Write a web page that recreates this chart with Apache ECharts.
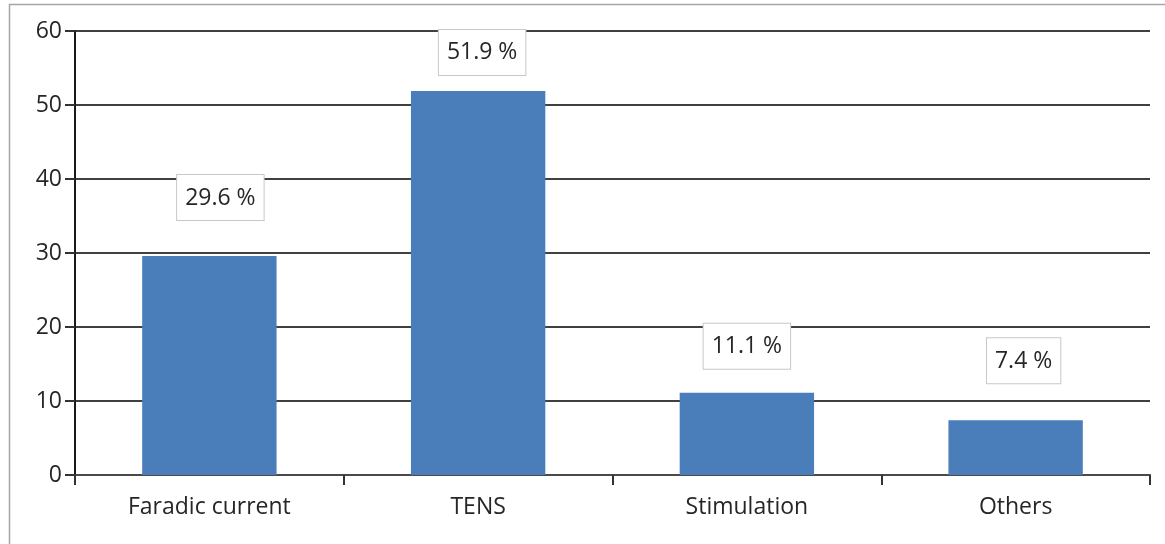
<!DOCTYPE html>
<html>
<head>
<meta charset="utf-8">
<title>Bar chart</title>
<script src="https://cdn.jsdelivr.net/npm/echarts@6/dist/echarts.min.js"></script>
<style>
  html, body { margin: 0; padding: 0; background: #fff; }
  #chart { width: 1165px; height: 544px; }
</style>
</head>
<body>
<div id="chart"></div>
<script>
// data
const categories = ['Faradic current', 'TENS', 'Stimulation', 'Others']
const percents = [29.6, 51.9, 11.1, 7.4]
const yTicks = { min: 0, max: 60, interval: 10 }

// label placement nudges (gap above bar, horizontal shift)
const labelGap = [36, 16, 24, 37]
const labelShift = [11, 4, 0, 8]

const chart = echarts.init(document.getElementById('chart'))

const font = '"Open Sans", "Noto Sans", sans-serif'
const textColor = '#262626'

chart.setOption({
  animation: false,
  textStyle: { fontFamily: font },
  graphic: [{
    type: 'rect',
    shape: { x: 9.5, y: 4.5, width: 1300, height: 700 },
    style: { fill: 'none', stroke: '#a6a6a6', lineWidth: 1.5 },
    silent: true,
    z: -1
  }],
  grid: {
    left: 75,
    right: 15,
    top: 31,
    bottom: 69,
    containLabel: false
  },
  xAxis: {
    type: 'category',
    data: categories,
    axisLine: { lineStyle: { color: '#4a4a4a', width: 2 } },
    axisTick: { show: true, length: 10, lineStyle: { color: '#333', width: 2 } },
    axisLabel: { color: textColor, fontSize: 23, margin: 21, fontFamily: font }
  },
  yAxis: {
    type: 'value',
    min: yTicks.min,
    max: yTicks.max,
    interval: yTicks.interval,
    axisLine: { show: true, lineStyle: { color: '#1a1a1a', width: 2 } },
    axisTick: { show: true, length: 10, lineStyle: { color: '#333', width: 2 } },
    axisLabel: { color: textColor, fontSize: 23, margin: 13, fontFamily: font },
    splitLine: { show: true, lineStyle: { color: '#404040', width: 2 } }
  },
  series: [{
    type: 'bar',
    barWidth: '50%',
    itemStyle: { color: '#4a7ebb' },
    data: percents.map((v, i) => ({
      value: v,
      label: {
        show: true,
        position: 'top',
        distance: labelGap[i],
        offset: [labelShift[i], 0],
        formatter: '{c} %',
        color: textColor,
        fontSize: 23,
        fontFamily: font,
        lineHeight: 28,
        padding: [9, 8, 8, 8],
        backgroundColor: '#fff',
        borderColor: '#c8c8c8',
        borderWidth: 1
      }
    }))
  }]
})
</script>
</body>
</html>
